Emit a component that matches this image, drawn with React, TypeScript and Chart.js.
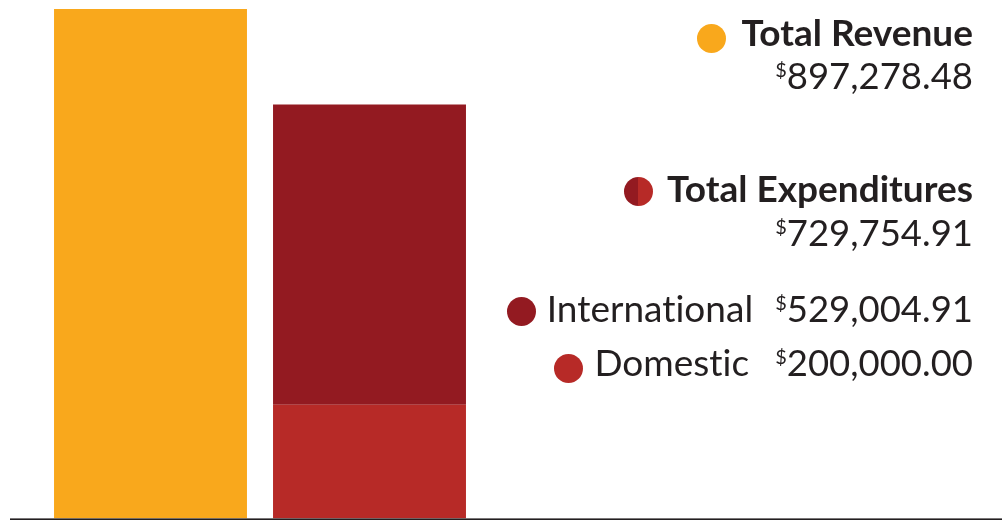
import React, { useEffect, useRef } from "react";
import { Chart, registerables } from "chart.js";

Chart.register(...registerables);

const categories = ["Revenue", "Expenditures"];
const revenueValues = [897278.48, null];
const domesticValues = [null, 200000.0];
const internationalValues = [null, 529004.91];
const legendTitles = ["Total Revenue", "Total Expenditures"];
const legendTotals = ["897,278.48", "729,754.91"];
const breakdownLabels = ["International", "Domestic"];
const breakdownValues = ["529,004.91", "200,000.00"];

const ORANGE = "#F9A81C";
const DARK_RED = "#931A21";
const RED = "#B72A27";
const TEXT = "#231F20";

const baselinePlugin = {
  id: "baseline",
  afterDatasetsDraw(chart: any) {
    const { ctx, chartArea } = chart;
    ctx.save();
    ctx.fillStyle = TEXT;
    ctx.fillRect(10, chartArea.bottom, chart.width - 10, 1.6);
    ctx.restore();
  },
};

const Dot = ({ bg, v, gap }: { bg: string; v: number; gap: number }) => (
  <span
    style={{
      display: "inline-block",
      width: 29,
      height: 29,
      borderRadius: "50%",
      background: bg,
      verticalAlign: v,
      marginRight: gap,
    }}
  />
);

const Money = ({ n }: { n: string }) => (
  <span style={{ fontWeight: 400, fontSize: 36.5 }}>
    <span style={{ fontSize: 20, lineHeight: "0px", verticalAlign: 12 }}>$</span>
    {n}
  </span>
);

export default function App() {
  const ref = useRef<HTMLCanvasElement | null>(null);
  useEffect(() => {
    if (!ref.current) return;
    const chart = new Chart(ref.current, {
      type: "bar",
      data: {
        labels: categories,
        datasets: [
          { label: "Total Revenue", data: revenueValues as any, backgroundColor: ORANGE, stack: "s" },
          { label: "Domestic", data: domesticValues as any, backgroundColor: RED, stack: "s" },
          { label: "International", data: internationalValues as any, backgroundColor: DARK_RED, stack: "s" },
        ],
      },
      options: {
        animation: false,
        responsive: false,
        maintainAspectRatio: false,
        layout: { padding: { left: 41, right: 523, top: 9, bottom: 1.6 } },
        datasets: { bar: { barPercentage: 0.881, categoryPercentage: 1, borderWidth: 0 } },
        plugins: { legend: { display: false }, tooltip: { enabled: false } },
        scales: {
          x: { display: false, stacked: true },
          y: { display: false, stacked: true, min: 0, max: 897278.48 },
        },
      },
      plugins: [baselinePlugin],
    });
    return () => chart.destroy();
  }, []);

  const row = (baseline: number, fs: number, bold: boolean): React.CSSProperties => ({
    position: "absolute",
    right: 29,
    top: baseline - fs * 0.987 + (bold ? 1.5 : 2),
    fontSize: fs,
    lineHeight: `${fs * 1.2}px`,
    fontWeight: bold ? 700 : 400,
    whiteSpace: "nowrap",
    color: TEXT,
    fontVariantLigatures: "none",
  });

  return (
    <div
      style={{
        position: "absolute",
        left: 0,
        top: 0,
        width: 1002,
        height: 520,
        background: "#fff",
        fontFamily: "Lato, sans-serif",
        overflow: "hidden",
      }}
    >
      <canvas ref={ref} width={1002} height={520} style={{ position: "absolute", left: 0, top: 0, width: 1002, height: 520 }} />
      <div style={row(45, 37, true)}>
        <Dot bg={ORANGE} v={-7} gap={16} />
        {legendTitles[0]}
      </div>
      <div style={row(88, 37, false)}>
        <Money n={legendTotals[0]} />
      </div>
      <div style={row(201, 37, true)}>
        <Dot bg={`linear-gradient(to right, ${DARK_RED} 50%, ${RED} 50%)`} v={-4} gap={14} />
        {legendTitles[1]}
      </div>
      <div style={row(245, 37, false)}>
        <Money n={legendTotals[1]} />
      </div>
      <div style={row(321, 37, false)}>
        <Dot bg={DARK_RED} v={-4} gap={11} />
        {breakdownLabels[0]}
        <span style={{ display: "inline-block", width: 22 }} />
        <Money n={breakdownValues[0]} />
      </div>
      <div style={row(375, 37, false)}>
        <Dot bg={RED} v={-7} gap={11} />
        {breakdownLabels[1]}
        <span style={{ display: "inline-block", width: 26 }} />
        <Money n={breakdownValues[1]} />
      </div>
    </div>
  );
}
